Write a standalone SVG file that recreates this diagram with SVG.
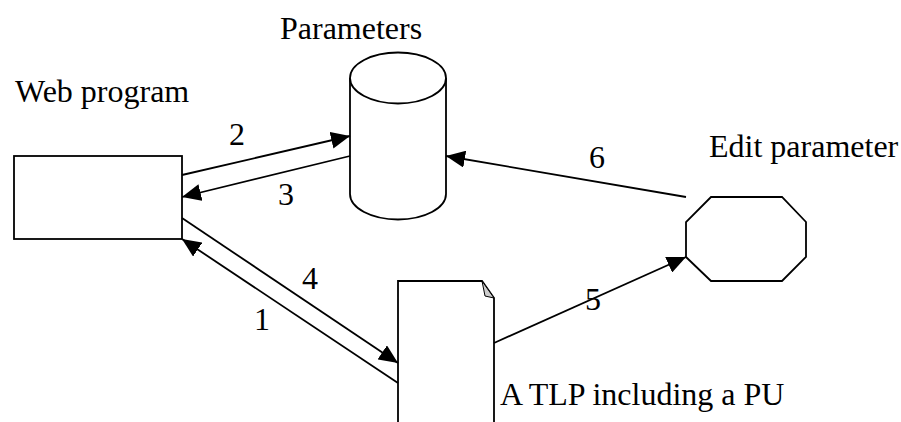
<svg xmlns="http://www.w3.org/2000/svg" width="901" height="422" viewBox="0 0 901 422">
<style>
.s{fill:#fff;stroke:#000;stroke-width:1.8}
.c{fill:none;stroke:#000;stroke-width:1.8}
text{font-family:'Liberation Serif','Times New Roman',serif;font-size:32px;fill:#000}
</style>
<defs>
<marker id="ah" markerUnits="userSpaceOnUse" markerWidth="19" markerHeight="17" refX="19" refY="8.5" orient="auto">
<path d="M0,0 L19,8.5 L0,17 z" fill="#000"/>
</marker>
</defs>
<rect width="901" height="422" fill="#fff"/>
<g id="web-program">
<rect class="s" x="14" y="156" width="168" height="83"/>
<text x="15" y="102">Web program</text>
</g>
<g id="parameters">
<path class="s" d="M350,78 L350,194 A48,25.5 0 0 0 446,194 L446,78"/>
<ellipse class="s" cx="398" cy="78" rx="48" ry="25.5"/>
<text x="280" y="39">Parameters</text>
</g>
<g id="tlp">
<path class="s" d="M398,424 L398,281 L482,281 L494,298 L494,424"/>
<path d="M482,281 L494,298 L485,296 z" fill="#ccc" stroke="#000" stroke-width="1"/>
<text x="500" y="405">A TLP including a PU</text>
</g>
<g id="edit-parameter">
<polygon class="s" points="711,197 782,197 806,222 806,257 782,281 711,281 686,257 686,222"/>
<text x="709" y="157">Edit parameter</text>
</g>
<g id="connectors">
<line class="c" x1="182" y1="175" x2="350" y2="136" marker-end="url(#ah)"/>
<line class="c" x1="350" y1="156" x2="182" y2="197" marker-end="url(#ah)"/>
<line class="c" x1="686" y1="197" x2="446" y2="156" marker-end="url(#ah)"/>
<line class="c" x1="182" y1="218" x2="398" y2="363" marker-end="url(#ah)"/>
<line class="c" x1="398" y1="383" x2="182" y2="239" marker-end="url(#ah)"/>
<line class="c" x1="494" y1="343" x2="686" y2="257" marker-end="url(#ah)"/>
<text x="229" y="145">2</text>
<text x="278" y="205">3</text>
<text x="589" y="168">6</text>
<text x="302" y="289">4</text>
<text x="254" y="330">1</text>
<text x="585" y="310">5</text>
</g>
</svg>
